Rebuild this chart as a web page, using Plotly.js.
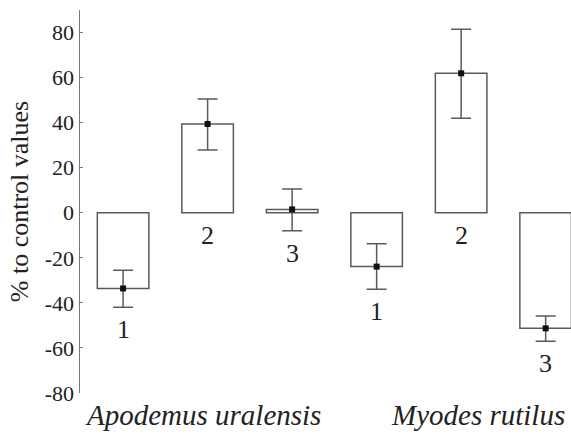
<!DOCTYPE html>
<html>
<head>
<meta charset="utf-8">
<script src="https://cdn.plot.ly/plotly-3.0.1.min.js"></script>
<style>html,body{margin:0;padding:0;background:#fff}#chart{width:571px;height:435px}</style>
</head>
<body>
<div id="chart"></div>
<script>
// ---- data ----
var positions = [1, 2, 3, 4, 5, 6];
var barLabels = ["1", "2", "3", "1", "2", "3"];
var meanValues = [-33.6, 39.4, 1.5, -23.9, 61.9, -51.3];
var errPlus = [8.1, 11.1, 9.0, 10.1, 19.6, 5.5];
var errMinus = [8.3, 11.5, 9.5, 10.1, 19.9, 5.7];
var groupNames = ["Apodemus uralensis", "Myodes rutilus"];
var groupCenters = [1.95, 5.2];
var yTickVals = [-80, -60, -40, -20, 0, 20, 40, 60, 80];
var yTickText = ["-80", "-60", "-40", "-20", "0", "20", "40", "60", "80"];

var serif = "Times New Roman, Liberation Serif, Tinos, DejaVu Serif, serif";
var edge = "#5a5a5a";

var bars = {
  type: "bar",
  x: positions,
  y: meanValues,
  width: 0.61,
  marker: { color: "#ffffff", line: { color: edge, width: 1.5 } },
  hoverinfo: "skip",
  showlegend: false
};

var points = {
  type: "scatter",
  mode: "markers",
  x: positions,
  y: meanValues,
  marker: { symbol: "square", size: 6, color: "#111111" },
  error_y: {
    type: "data", symmetric: false,
    array: errPlus, arrayminus: errMinus,
    color: edge, thickness: 1.5, width: 10
  },
  cliponaxis: false,
  showlegend: false
};

var annotations = [];
for (var i = 0; i < positions.length; i++) {
  var low = Math.min(0, meanValues[i] - errMinus[i]);
  annotations.push({
    x: positions[i], y: low, xref: "x", yref: "y",
    text: barLabels[i], showarrow: false,
    yanchor: "top", yshift: -6,
    font: { family: serif, size: 26, color: "#222" }
  });
}
for (var g = 0; g < groupNames.length; g++) {
  annotations.push({
    x: groupCenters[g], y: 0, xref: "x", yref: "paper",
    text: "<i>" + groupNames[g] + "</i>", showarrow: false,
    yanchor: "top", yshift: -4,
    font: { family: serif, size: 29, color: "#222" }
  });
}

var layout = {
  width: 571, height: 435,
  margin: { l: 80, r: 0, t: 10, b: 42 },
  paper_bgcolor: "#fff", plot_bgcolor: "#fff",
  showlegend: false,
  font: { family: serif },
  xaxis: {
    range: [0.49, 6.30],
    showgrid: false, zeroline: false, showline: false,
    showticklabels: false, ticks: ""
  },
  yaxis: {
    range: [-80, 90],
    tickvals: yTickVals, ticktext: yTickText,
    showgrid: false, zeroline: false,
    showline: true, linecolor: "#777", linewidth: 1.5,
    ticks: "inside", ticklen: 3, tickcolor: "#777", tickwidth: 1,
    tickfont: { family: serif, size: 22, color: "#222" },
    title: { text: "% to control values", font: { family: serif, size: 26, color: "#222" }, standoff: 8 }
  },
  annotations: annotations
};

Plotly.newPlot("chart", [bars, points], layout, { displayModeBar: false, staticPlot: true });
</script>
</body>
</html>
